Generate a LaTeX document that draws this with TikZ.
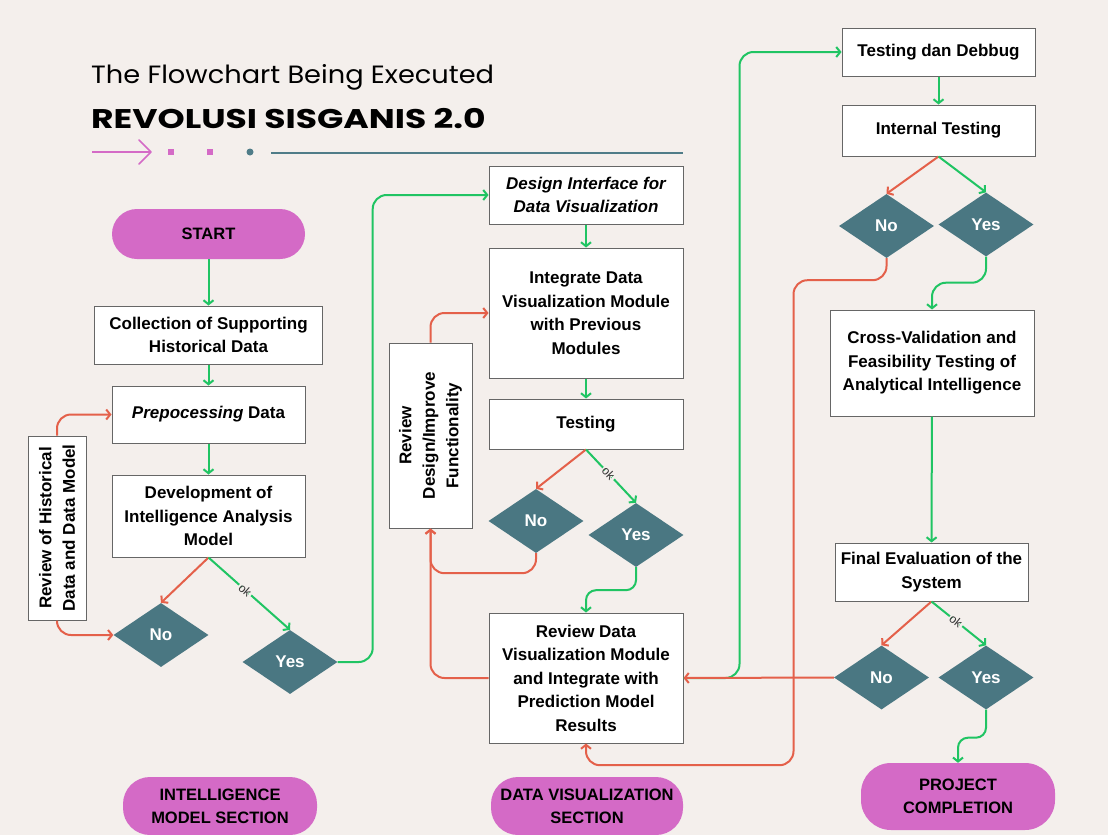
\documentclass[tikz,border=0pt]{standalone}
\usepackage{fontspec}
\setmainfont{Liberation Sans}
\newfontfamily\popfont{Poppins}
\usetikzlibrary{shapes.geometric,arrows.meta,calc}
\definecolor{bg}{HTML}{F4EFEC}
\definecolor{pinkc}{HTML}{D46AC6}
\definecolor{tealc}{HTML}{4A7782}
\definecolor{linec}{HTML}{4F7C88}
\definecolor{greenc}{HTML}{20C463}
\definecolor{redc}{HTML}{E4604A}
\definecolor{boxc}{HTML}{666666}
\tikzset{
  box/.style={draw=boxc, line width=1pt, fill=white, align=center, inner sep=2pt,
    font=\bfseries\fontsize{17}{23.5}\selectfont},
  dec/.style={diamond, fill=tealc, inner sep=0pt, minimum width=95pt, minimum height=64pt,
    text=white, font=\bfseries\fontsize{17}{20}\selectfont},
  pill/.style={fill=pinkc, align=center, inner sep=0pt,
    font=\bfseries\fontsize{16.5}{23}\selectfont},
  rtext/.style={rotate=90, align=center, font=\bfseries\fontsize{17}{23.5}\selectfont},
  garr/.style={draw=greenc, line width=2pt, -{Straight Barb[length=4pt,width=10pt]}, rounded corners=14pt},
  rarr/.style={draw=redc, line width=2pt, -{Straight Barb[length=4pt,width=10pt]}, rounded corners=14pt},
  oklab/.style={fill=bg, sloped, font=\fontsize{12}{12}\selectfont, text=black!80, inner sep=1.5pt},
}
\begin{document}
\begin{tikzpicture}[x=1pt,y=-1pt]
\fill[bg] (0,0) rectangle (1108,835);
\useasboundingbox (0,0) rectangle (1108,835);

% Title
\node[anchor=base west, inner sep=0pt, font=\popfont\fontsize{25}{25}\selectfont] (t1) at (91,83) {\scalebox{1.09}[1]{The Flowchart Being Executed}};
\node[anchor=base west, inner sep=0pt, font=\popfont\bfseries\fontsize{27}{27}\selectfont] (t2) at (91,128) {\scalebox{1.28}[1]{REVOLUSI SISGANIS 2.0}};
\draw[pinkc, line width=1.5pt] (92,152) -- (151,152);
\draw[pinkc, line width=1.5pt, line cap=round, line join=round] (139,140) -- (151,152) -- (139,164);
\fill[pinkc] (168,149) rectangle (174,155);
\fill[pinkc] (207,149) rectangle (213,155);
\fill[linec] (250,152) circle (3.5pt);
\draw[linec, line width=2pt] (271,152.5) -- (683,152.5);

% Left column
\node[pill, minimum width=193pt, minimum height=50pt, rounded corners=25pt] (start) at (208.5,234) {START};
\node[box, minimum width=228pt, minimum height=58pt] (coll) at (208.5,335) {Collection of Supporting\\Historical Data};
\node[box, minimum width=193pt, minimum height=57pt] (prep) at (208.5,414.5) {\textit{Prepocessing} Data};
\node[box, minimum width=193pt, minimum height=82pt] (dev) at (208.5,516) {Development of\\Intelligence Analysis\\Model};
\node[dec] (no1) at (161,635) {No};
\node[dec] (yes1) at (290,662) {Yes};
\node[box, minimum width=58pt, minimum height=184pt] (rev1) at (57,528) {};
\node[rtext] (rev1t) at (rev1) {Review of Historical\\Data and Data Model};

% Middle column
\node[box, minimum width=194pt, minimum height=58pt, font=\bfseries\itshape\fontsize{17}{23.5}\selectfont] (des) at (586,195) {Design Interface for\\Data Visualization};
\node[box, minimum width=194pt, minimum height=130pt] (integ) at (586,313) {Integrate Data\\Visualization Module\\with Previous\\Modules};
\node[box, minimum width=194pt, minimum height=50pt] (test) at (586,424) {Testing};
\node[dec] (no2) at (536,521) {No};
\node[dec] (yes2) at (636,535) {Yes};
\node[box, minimum width=83pt, minimum height=185pt] (rev2) at (430.5,435.5) {};
\node[rtext] (rev2t) at (rev2) {Review\\Design/Improve\\Functionality};
\node[box, minimum width=194pt, minimum height=130pt] (rd) at (586,678) {Review Data\\Visualization Module\\and Integrate with\\Prediction Model\\Results};

% Right column
\node[box, minimum width=193pt, minimum height=48pt] (tdd) at (938.5,52) {Testing dan Debbug};
\node[box, minimum width=193pt, minimum height=51pt] (int) at (938.5,130.5) {Internal Testing};
\node[dec] (ino) at (886.5,226) {No};
\node[dec] (iyes) at (986,224.5) {Yes};
\node[box, minimum width=204pt, minimum height=106pt] (cv) at (932,363) {Cross-Validation and\\Feasibility Testing of\\Analytical Intelligence};
\node[box, minimum width=193pt, minimum height=58pt] (fe) at (931.5,572) {Final Evaluation of the\\System};
\node[dec] (fno) at (881.5,677.5) {No};
\node[dec] (fyes) at (986,677.5) {Yes};

% Bottom pills
\node[pill, minimum width=194pt, minimum height=58pt, rounded corners=27pt] (ims) at (220,806) {INTELLIGENCE\\MODEL SECTION};
\node[pill, minimum width=192pt, minimum height=58pt, rounded corners=27pt] (dvs) at (587,806) {DATA VISUALIZATION\\SECTION};
\node[pill, minimum width=194pt, minimum height=67pt, rounded corners=30pt] (pc) at (958,796.5) {PROJECT\\COMPLETION};

% Left connectors
\draw[garr] (start) -- (coll);
\draw[garr] (coll) -- (prep);
\draw[garr] (prep) -- (dev);
\draw[rarr] (dev.south) -- (no1.north);
\draw[garr] (dev.south) -- node[oklab, pos=0.45] {ok} (yes1.north);
\draw[rarr] (rev1.north) |- (prep.west);
\draw[rarr] (rev1.south) |- (no1.west);
\draw[garr] (yes1.east) -- ++(35,0) |- (des.west);

% Middle connectors
\draw[garr] (des) -- (integ);
\draw[garr] (integ) -- (test);
\draw[rarr] (test.south) -- (no2.north);
\draw[garr] (test.south) -- node[oklab, pos=0.45] {ok} (yes2.north);
\draw[rarr] (rev2.north) |- (integ.west);
\draw[rarr] (no2.south) -- ++(0,20) -| (rev2.south);
\draw[rarr] (rd.west) -| (rev2.south);
\draw[garr, rounded corners=10pt] (yes2.south) -- ++(0,23) -| (rd.north);
\draw[garr] (rd.east) -- ++(56,0) |- (tdd.west);

% Right connectors
\draw[garr] (tdd) -- (int);
\draw[rarr] (int.south) -- (ino.north);
\draw[garr] (int.south) -- (iyes.north);
\draw[garr] (iyes.south) -- ++(0,26) -| (cv.north);
\draw[garr] (cv) -- (fe);
\draw[rarr] (fe.south) -- (fno.north);
\draw[garr] (fe.south) -- node[oklab, pos=0.45] {ok} (fyes.north);
\draw[garr, rounded corners=10pt] (fyes.south) -- ++(0,28) -| (pc.north);
\draw[rarr] (ino.south) -- ++(0,22) -| ++(-93,485) -| (rd.south);
\draw[rarr] (fno.west) -- (rd.east);
\end{tikzpicture}
\end{document}
